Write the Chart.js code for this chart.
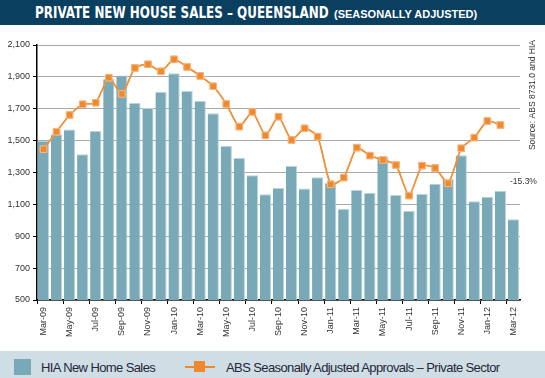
<!DOCTYPE html>
<html><head><meta charset="utf-8">
<script src="https://cdn.jsdelivr.net/npm/chart.js@4"></script>
<style>
html,body{margin:0;padding:0;background:#fff;}
#wrap{position:relative;width:545px;height:378px;overflow:hidden;font-family:"Liberation Sans",Arial,sans-serif;}
#title{position:absolute;left:0;top:0;width:545px;height:25px;background:#0b3f5f;color:#fff;}
#title .m{position:absolute;left:35px;top:5px;line-height:1;white-space:nowrap;font-weight:bold;
  font-family:"Liberation Sans Narrow","DejaVu Sans Condensed",sans-serif;font-size:15.8px;
  transform:scaleX(0.84);transform-origin:0 0;}
#title .s{position:absolute;left:334px;top:8.6px;line-height:1;white-space:nowrap;font-weight:bold;
  font-family:"Liberation Sans",Arial,sans-serif;font-size:11px;}
#cvbox{position:absolute;left:0;top:0;width:545px;height:352px;}
#legend{position:absolute;left:0;top:351px;width:545px;height:27px;background:#cfdde4;}
#legend .lt{position:absolute;top:10px;line-height:13px;font-size:13px;letter-spacing:-0.6px;color:#26263a;white-space:nowrap;}
</style>
</head><body>
<div id="wrap">
  <div id="cvbox"><canvas id="cv" width="545" height="352"></canvas></div>
  <div id="title"><span class="m">PRIVATE NEW HOUSE SALES – QUEENSLAND</span><span class="s">(SEASONALLY ADJUSTED)</span></div>
  <div id="legend">
    <span style="position:absolute;left:14px;top:8px;width:17px;height:16px;background:#79a8b7"></span>
    <span class="lt" style="left:41px">HIA New Home Sales</span>
    <span style="position:absolute;left:185px;top:15px;width:30px;height:2px;background:#ef8a2c"></span>
    <span style="position:absolute;left:194px;top:10px;width:11px;height:11px;background:#ef8a2c"></span>
    <span class="lt" style="left:226px">ABS Seasonally Adjusted Approvals – Private Sector</span>
  </div>
</div>
<script>
const months = ["Mar-09","Apr-09","May-09","Jun-09","Jul-09","Aug-09","Sep-09","Oct-09","Nov-09","Dec-09",
  "Jan-10","Feb-10","Mar-10","Apr-10","May-10","Jun-10","Jul-10","Aug-10","Sep-10","Oct-10","Nov-10","Dec-10",
  "Jan-11","Feb-11","Mar-11","Apr-11","May-11","Jun-11","Jul-11","Aug-11","Sep-11","Oct-11","Nov-11","Dec-11",
  "Jan-12","Feb-12","Mar-12"];
const hiaSales = [1500,1540,1570,1415,1560,1887,1908,1736,1705,1807,1922,1811,1749,1671,1466,1391,1282,1163,1203,1341,1199,1270,1236,1071,1190,1173,1399,1159,1058,1165,1230,1259,1408,1119,1148,1186,1006];
const absApprovals = [1446,1556,1661,1728,1738,1895,1793,1956,1979,1935,2010,1962,1906,1841,1730,1588,1680,1533,1650,1504,1577,1525,1226,1268,1456,1406,1379,1347,1155,1343,1328,1232,1452,1519,1623,1598,null];
const yTicks = [500,700,900,1100,1300,1500,1700,1900,2100];
const changeLabel = "-15.3%";
const sourceText = "Source: ABS 8731.0 and HIA";

const annot = {
  id:'annot',
  afterDraw(chart){
    const {ctx, chartArea, scales:{y}} = chart;
    chart.getDatasetMeta(1).controller.draw();
    ctx.save();
    ctx.fillStyle = '#333';
    ctx.font = '8.5px "Liberation Sans", Arial, sans-serif';
    ctx.textAlign = 'left'; ctx.textBaseline = 'middle';
    ctx.fillText(changeLabel, chartArea.right - 10, y.getPixelForValue(1240));
    ctx.translate(533, chartArea.top - 5);
    ctx.rotate(-Math.PI/2);
    ctx.textAlign = 'right';
    ctx.fillText(sourceText, 0, 0);
    ctx.restore();
  }
};

new Chart(document.getElementById('cv'), {
  data: {
    labels: months,
    datasets: [
      { type:'bar', label:'HIA New Home Sales', data:hiaSales, backgroundColor:'#79a8b7',
        borderColor:'#b9d3db', borderWidth:{top:1,right:1,left:0,bottom:0}, borderSkipped:false,
        barPercentage:0.86, categoryPercentage:1.0, order:2 },
      { type:'line', label:'ABS Seasonally Adjusted Approvals – Private Sector', data:absApprovals,
        borderColor:'#f0923c', borderWidth:1.5, tension:0.2,
        pointStyle:'rect', pointRadius:4.6, pointBackgroundColor:'#ef8a2c', pointBorderColor:'#f6b682', pointBorderWidth:1,
        order:1 }
    ]
  },
  options: {
    responsive:false, animation:false, devicePixelRatio:1,
    layout:{ padding:{ top:45, right:25, left:0, bottom:0 } },
    plugins:{ legend:{display:false}, title:{display:false}, tooltip:{enabled:false} },
    scales:{
      x:{
        offset:true, z:1,
        afterFit(s){ s.height = 52; },
        grid:{ display:true, offset:true, drawOnChartArea:false, drawTicks:true, tickLength:4,
          tickColor:(c)=> (c.index!==undefined && c.index%2===0) ? '#000' : 'rgba(0,0,0,0)' },
        border:{ display:true, color:'#000', width:1.5 },
        ticks:{ autoSkip:false, minRotation:90, maxRotation:90, padding:3, color:'#333',
          font:{ family:'"Liberation Sans", Arial, sans-serif', size:9 },
          callback:(v,i)=> i%2===0 ? months[i] : '' }
      },
      y:{
        min:500, max:2100, z:1,
        afterFit(s){ s.width = 37; },
        afterBuildTicks(s){ s.ticks = yTicks.map(v=>({value:v})); },
        grid:{ color:'#aaaaaa', lineWidth:1, tickLength:4, tickColor:'#000' },
        border:{ display:true, color:'#000', width:1.5 },
        ticks:{ padding:3, color:'#333', font:{ family:'"Liberation Sans", Arial, sans-serif', size:9 },
          callback:(v)=> v.toLocaleString('en-US') }
      }
    }
  },
  plugins:[annot]
});
</script>
</body></html>
